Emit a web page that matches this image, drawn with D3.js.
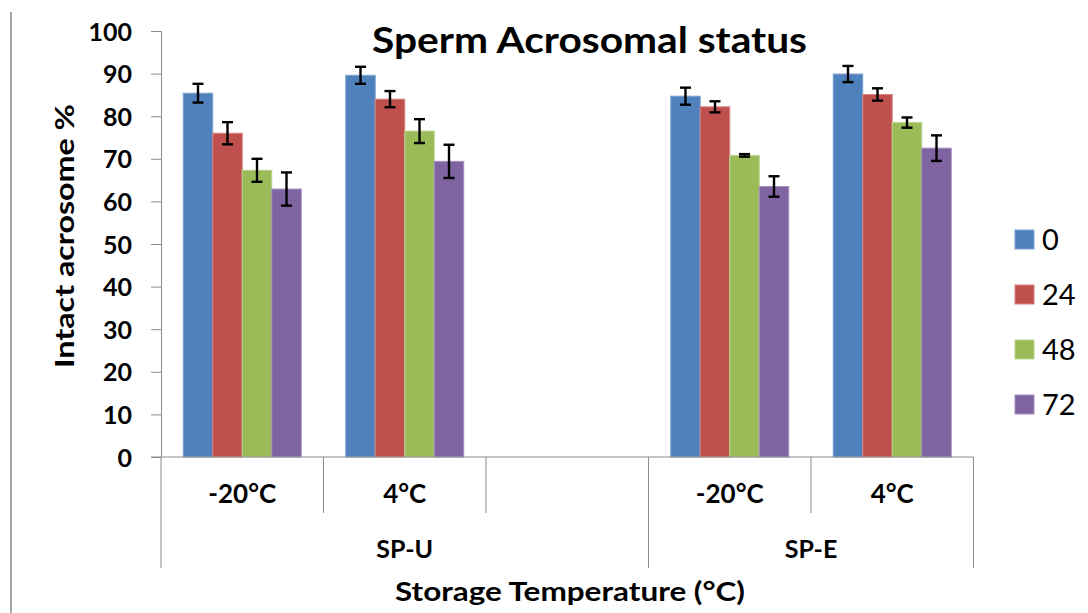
<!DOCTYPE html>
<html>
<head>
<meta charset="utf-8">
<script src="https://cdn.jsdelivr.net/npm/d3@7"></script>
<style>
  html, body { margin: 0; padding: 0; background: #fff; }
  svg { display: block; }
  text { font-family: Lato, "Open Sans", sans-serif; fill: #000; }
</style>
</head>
<body>
<svg id="chart" width="1088" height="613"></svg>
<script>
// ---- data ----
const categoryLabels = ["-20°C", "4°C", "", "-20°C", "4°C"];
const categoryGroups = ["SP-U", "SP-U", "SP-U", "SP-E", "SP-E"];
const groupNames = ["SP-U", "SP-E"];
const seriesNames = ["0", "24", "48", "72"];
const values0h  = [85.4, 89.6, null, 84.7, 89.9];
const values24h = [76.0, 84.0, null, 82.2, 85.1];
const values48h = [67.3, 76.5, null, 70.8, 78.5];
const values72h = [62.9, 69.4, null, 63.5, 72.5];
const errors0h  = [2.2, 2.0, null, 2.0, 1.9];
const errors24h = [2.6, 1.9, null, 1.3, 1.45];
const errors48h = [2.7, 2.8, null, 0.3, 1.2];
const errors72h = [3.9, 3.9, null, 2.4, 3.0];
const yTicks = [0, 10, 20, 30, 40, 50, 60, 70, 80, 90, 100];
const chartTitle = "Sperm Acrosomal status";
const yTitle = "Intact acrosome %";
const xTitle = "Storage Temperature (°C)";

(function () {
const seriesValues = [values0h, values24h, values48h, values72h];
const seriesErrors = [errors0h, errors24h, errors48h, errors72h];
const colors = ["#4F81BD", "#C0504D", "#9BBB59", "#8064A2"];
const strokes = ["#7FA3D1", "#D68482", "#BBD28F", "#A591C0"];

const svg = d3.select("#chart");
const plotLeft = 161, plotRight = 973.5, plotTop = 31, plotBottom = 457;
const level1 = 513, level2 = 568;
const axisColor = "#8C8C8C";

// frame line at left
svg.append("line").attr("x1", 11).attr("x2", 11).attr("y1", 12).attr("y2", 613)
  .attr("stroke", "#A6A6A6").attr("stroke-width", 2);

const slots = d3.range(categoryLabels.length);
const x = d3.scaleBand().domain(slots).range([plotLeft, plotRight]).padding(0);
const xs = d3.scaleBand().domain(seriesNames).range([0, x.bandwidth()])
  .paddingInner(0).paddingOuter(0.754);
const y = d3.scaleLinear().domain([0, 100]).range([plotBottom, plotTop]);

// y axis
const yAxis = svg.append("g").attr("transform", `translate(${plotLeft},0)`)
  .call(d3.axisLeft(y).tickValues(yTicks).tickSize(10).tickPadding(19));
yAxis.select(".domain").attr("stroke", axisColor);
yAxis.selectAll(".tick line").attr("stroke", axisColor);
yAxis.selectAll(".tick text")
  .style("font-family", "Lato").style("font-weight", "bold").style("font-size", "25px")
  .attr("fill", "#000").attr("dy", "0.36em");

// bars
const barData = [];
seriesNames.forEach((s, si) => {
  slots.forEach(ci => {
    const v = seriesValues[si][ci];
    if (v != null) barData.push({ s, si, ci, v, e: seriesErrors[si][ci] });
  });
});
svg.append("g").selectAll("rect").data(barData).join("rect")
  .attr("x", d => x(d.ci) + xs(d.s))
  .attr("width", xs.bandwidth())
  .attr("y", d => y(d.v))
  .attr("height", d => y(0) - y(d.v))
  .attr("fill", d => colors[d.si])
  .attr("stroke", d => strokes[d.si])
  .attr("stroke-width", 1);

// error bars
const eg = svg.append("g").attr("stroke", "#000").attr("stroke-width", 2.4);
barData.forEach(d => {
  const cx = x(d.ci) + xs(d.s) + xs.bandwidth() / 2;
  const y1 = y(d.v + d.e), y2 = y(d.v - d.e);
  eg.append("line").attr("x1", cx).attr("x2", cx).attr("y1", y1).attr("y2", y2);
  eg.append("line").attr("x1", cx - 5.5).attr("x2", cx + 5.5).attr("y1", y1).attr("y2", y1);
  eg.append("line").attr("x1", cx - 5.5).attr("x2", cx + 5.5).attr("y1", y2).attr("y2", y2);
});

// x axis line
svg.append("line").attr("x1", plotLeft - 10).attr("x2", plotRight).attr("y1", plotBottom).attr("y2", plotBottom)
  .attr("stroke", axisColor);

// category boundaries
const bounds = slots.map(i => x(i)).concat([plotRight]);
bounds.forEach((bx, i) => {
  const isGroupEdge = i === 0 || i === bounds.length - 1 ||
    (i < categoryGroups.length && categoryGroups[i] !== categoryGroups[i - 1]);
  svg.append("line").attr("x1", bx).attr("x2", bx).attr("y1", plotBottom)
    .attr("y2", isGroupEdge ? level2 : level1).attr("stroke", axisColor);
});

// category labels
svg.append("g").selectAll("text").data(slots).join("text")
  .attr("x", i => x(i) + x.bandwidth() / 2)
  .attr("y", 503)
  .attr("text-anchor", "middle")
  .style("font-weight", "bold").style("font-size", "26px")
  .text(i => categoryLabels[i]);

// group labels
groupNames.forEach(g => {
  const idx = slots.filter(i => categoryGroups[i] === g);
  const x0 = x(idx[0]), x1 = x(idx[idx.length - 1]) + x.bandwidth();
  svg.append("text").attr("x", (x0 + x1) / 2).attr("y", 558)
    .attr("text-anchor", "middle")
    .style("font-weight", "bold").style("font-size", "25px")
    .text(g);
});

// axis titles
svg.append("text").attr("x", 570).attr("y", 601)
  .attr("text-anchor", "middle")
  .attr("textLength", 350).attr("lengthAdjust", "spacingAndGlyphs")
  .style("font-weight", "bold").style("font-size", "26.5px")
  .text(xTitle);

svg.append("text")
  .attr("transform", `translate(74,236) rotate(-90)`)
  .attr("text-anchor", "middle")
  .attr("textLength", 264).attr("lengthAdjust", "spacingAndGlyphs")
  .style("font-weight", "bold").style("font-size", "26.5px")
  .text(yTitle);

// chart title
svg.append("text").attr("x", 589.5).attr("y", 53)
  .attr("text-anchor", "middle")
  .attr("textLength", 435).attr("lengthAdjust", "spacingAndGlyphs")
  .style("font-weight", "bold").style("font-size", "37px")
  .text(chartTitle);

// legend
const legend = svg.append("g");
seriesNames.forEach((s, i) => {
  const ly = 230 + i * 55;
  legend.append("rect").attr("x", 1015).attr("y", ly).attr("width", 19).attr("height", 19)
    .attr("fill", colors[i]).attr("stroke", strokes[i]).attr("stroke-width", 1);
  legend.append("text").attr("x", 1042).attr("y", ly + 19.5)
    .style("font-size", "29px").text(s);
});
})();
</script>
</body>
</html>
